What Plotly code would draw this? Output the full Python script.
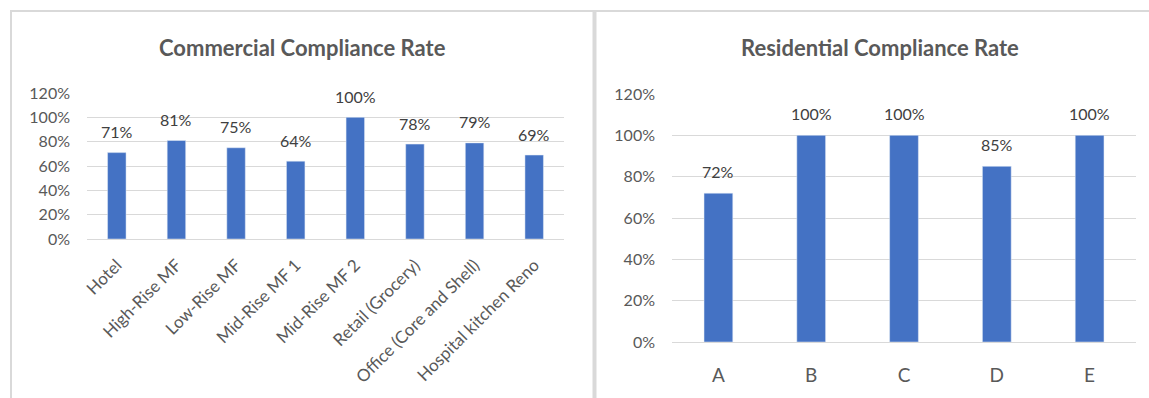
import plotly.graph_objects as go

W, H = 1149, 398

com_categories = ["Hotel", "High-Rise MF", "Low-Rise MF", "Mid-Rise MF 1", "Mid-Rise MF 2",
                  "Retail (Grocery)", "Office (Core and Shell)", "Hospital kitchen Reno"]
com_values = [0.71, 0.81, 0.75, 0.64, 1.00, 0.78, 0.79, 0.69]
res_categories = ["A", "B", "C", "D", "E"]
res_values = [0.72, 1.00, 1.00, 0.85, 1.00]
y_ticks = [0, 0.2, 0.4, 0.6, 0.8, 1.0, 1.2]
titles = ["Commercial Compliance Rate", "Residential Compliance Rate"]

BAR = "#4472C4"
GRID = "#D9D9D9"
TXT = "#595959"
LBL = "#404040"
FONT = "Lato"

def px(x):
    return x / W

def py(y):
    return 1 - y / H

fig = go.Figure()
fig.add_trace(go.Bar(x=com_categories, y=com_values, marker_color=BAR,
                     xaxis="x", yaxis="y", hoverinfo="skip"))
fig.add_trace(go.Bar(x=res_categories, y=res_values, marker_color=BAR,
                     xaxis="x2", yaxis="y2", hoverinfo="skip"))

annotations = []
for c, v in zip(com_categories, com_values):
    annotations.append(dict(x=c, y=v, xref="x", yref="y", text=f"{round(v*100)}%",
                            showarrow=False, yanchor="middle", yshift=21,
                            font=dict(family=FONT, size=16, color=LBL)))
for c, v in zip(res_categories, res_values):
    annotations.append(dict(x=c, y=v, xref="x2", yref="y2", text=f"{round(v*100)}%",
                            showarrow=False, yanchor="middle", yshift=22,
                            font=dict(family=FONT, size=16, color=LBL)))
annotations.append(dict(x=px(302), y=py(47), xref="paper", yref="paper", text=f"<b>{titles[0]}</b>",
                        showarrow=False, xanchor="center", yanchor="middle",
                        font=dict(family=FONT, size=22, color=TXT)))
annotations.append(dict(x=px(879.5), y=py(47), xref="paper", yref="paper", text=f"<b>{titles[1]}</b>",
                        showarrow=False, xanchor="center", yanchor="middle",
                        font=dict(family=FONT, size=22, color=TXT)))

shapes = [
    dict(type="line", xref="paper", yref="paper", x0=px(11), x1=px(11), y0=0, y1=py(11),
         line=dict(color=GRID, width=2)),
    dict(type="line", xref="paper", yref="paper", x0=px(10), x1=1, y0=py(11), y1=py(11),
         line=dict(color=GRID, width=2)),
    dict(type="line", xref="paper", yref="paper", x0=px(594.5), x1=px(594.5), y0=0, y1=py(11),
         line=dict(color=GRID, width=4)),
]

yax_common = dict(range=[0, 1.2], tickvals=y_ticks, tickformat=".0%", showgrid=True,
                  gridcolor=GRID, gridwidth=1, zeroline=True, zerolinecolor=GRID, zerolinewidth=1,
                  showline=False, ticks="", ticklabelstandoff=16, fixedrange=True, automargin=False,
                  tickfont=dict(family=FONT, size=16, color=TXT))

fig.update_layout(
    width=W, height=H, margin=dict(l=0, r=0, t=0, b=0, pad=0, autoexpand=False),
    paper_bgcolor="white", plot_bgcolor="white", showlegend=False, bargap=0.69,
    xaxis=dict(domain=[px(87), px(564)], tickangle=-45, showgrid=False, showline=False, ticks="",
               ticklabelstandoff=12, automargin=False,
               tickfont=dict(family=FONT, size=17, color=TXT), fixedrange=True),
    yaxis=dict(domain=[py(239), py(93)], anchor="x", **yax_common),
    xaxis2=dict(domain=[px(672), px(1136)], anchor="y2", showgrid=False, showline=False, ticks="",
                ticklabelstandoff=20, automargin=False,
                tickfont=dict(family=FONT, size=19, color=TXT), fixedrange=True),
    yaxis2=dict(domain=[py(342), py(94)], anchor="x2", **yax_common),
    annotations=annotations, shapes=shapes,
)

fig.write_html("out.html")
